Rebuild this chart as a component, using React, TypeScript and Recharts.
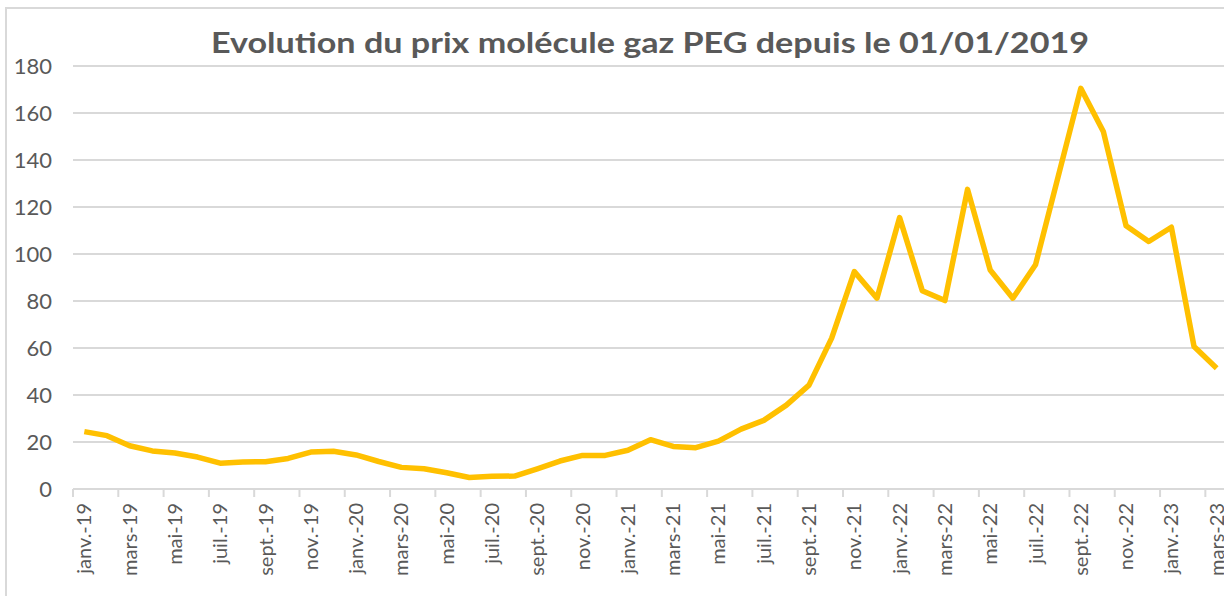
import React from 'react';
import { LineChart, Line, XAxis, YAxis, CartesianGrid } from 'recharts';

// month labels, janv.-19 .. mars-23
const monthNames = ['janv.', 'févr.', 'mars', 'avr.', 'mai', 'juin', 'juil.', 'août', 'sept.', 'oct.', 'nov.', 'déc.'];
const years = ['19', '20', '21', '22', '23'];
const months = years.flatMap((y) => monthNames.map((m) => `${m}-${y}`)).slice(0, 51);

// prix molécule gaz PEG (€/MWh)
const prices = [
  24.4, 22.7, 18.4, 16.2, 15.3, 13.6, 11.0, 11.5, 11.6, 13.0, 15.7, 16.1,
  14.5, 11.7, 9.2, 8.6, 6.9, 4.9, 5.4, 5.5, 8.6, 11.9, 14.3, 14.3,
  16.5, 21.0, 18.1, 17.6, 20.4, 25.5, 29.2, 35.7, 44.2, 64.2, 92.5, 81.2,
  115.5, 84.4, 80.2, 127.5, 93.2, 81.2, 95.4, 132.9, 170.5, 152.0, 112.0, 105.3,
  111.4, 60.6, 51.4,
];

const yTicks = [0, 20, 40, 60, 80, 100, 120, 140, 160, 180];

const title = 'Evolution du prix molécule gaz PEG depuis le 01/01/2019';

const data = months.map((month, i) => ({ month, price: prices[i] }));

const FONT = 'Lato, "Open Sans", sans-serif';
const GREY_TEXT = '#595959';
const GREY_LINE = '#d9d9d9';

function MonthTick(props: any) {
  const { x, y, payload } = props;
  const half = payload && payload.offset ? payload.offset : 11.3;
  return (
    <g>
      <line x1={x - half} x2={x - half} y1={y} y2={y + 8} stroke={GREY_LINE} strokeWidth={2} />
      <g transform={`translate(${x},${y + 14})`}>
        <text
          transform="rotate(-90)"
          textAnchor="end"
          dy="0.35em"
          fill={GREY_TEXT}
          fontSize={20}
          fontFamily={FONT}
        >
          {payload.value}
        </text>
      </g>
    </g>
  );
}

export default function App() {
  return (
    <div style={{ position: 'absolute', left: 0, top: 0, width: 1224, height: 596, overflow: 'hidden', background: '#fff' }}>
      <div
        style={{
          position: 'absolute',
          left: 5,
          top: 7,
          width: 1400,
          height: 800,
          border: `2px solid ${GREY_LINE}`,
          boxSizing: 'border-box',
        }}
      />
      <svg style={{ position: 'absolute', left: 0, top: 0 }} width={1224} height={70}>
        <text
          x={650}
          y={53}
          textAnchor="middle"
          fontFamily={FONT}
          fontWeight="bold"
          fontSize={29}
          fill={GREY_TEXT}
          textLength={878}
          lengthAdjust="spacingAndGlyphs"
        >
          {title}
        </text>
      </svg>
      <div style={{ position: 'absolute', left: 0, top: 0 }}>
        <LineChart width={1228} height={596} data={data} margin={{ top: 66, right: 0, bottom: 0, left: 0 }}>
          <CartesianGrid vertical={false} stroke={GREY_LINE} strokeWidth={2} />
          <XAxis
            dataKey="month"
            scale="band"
            interval={1}
            height={107}
            tickLine={false}
            tickSize={0}
            tickMargin={0}
            axisLine={{ stroke: GREY_LINE, strokeWidth: 2 }}
            tick={<MonthTick />}
          />
          <YAxis
            domain={[0, 180]}
            ticks={yTicks}
            width={73}
            axisLine={false}
            tickLine={false}
            tickSize={0}
            tickMargin={21}
            tick={{ fill: GREY_TEXT, fontSize: 22, fontFamily: FONT }}
          />
          <Line
            type="linear"
            dataKey="price"
            stroke="#ffc000"
            strokeWidth={5.5}
            strokeLinejoin="round"
            dot={false}
            isAnimationActive={false}
          />
        </LineChart>
      </div>
    </div>
  );
}
